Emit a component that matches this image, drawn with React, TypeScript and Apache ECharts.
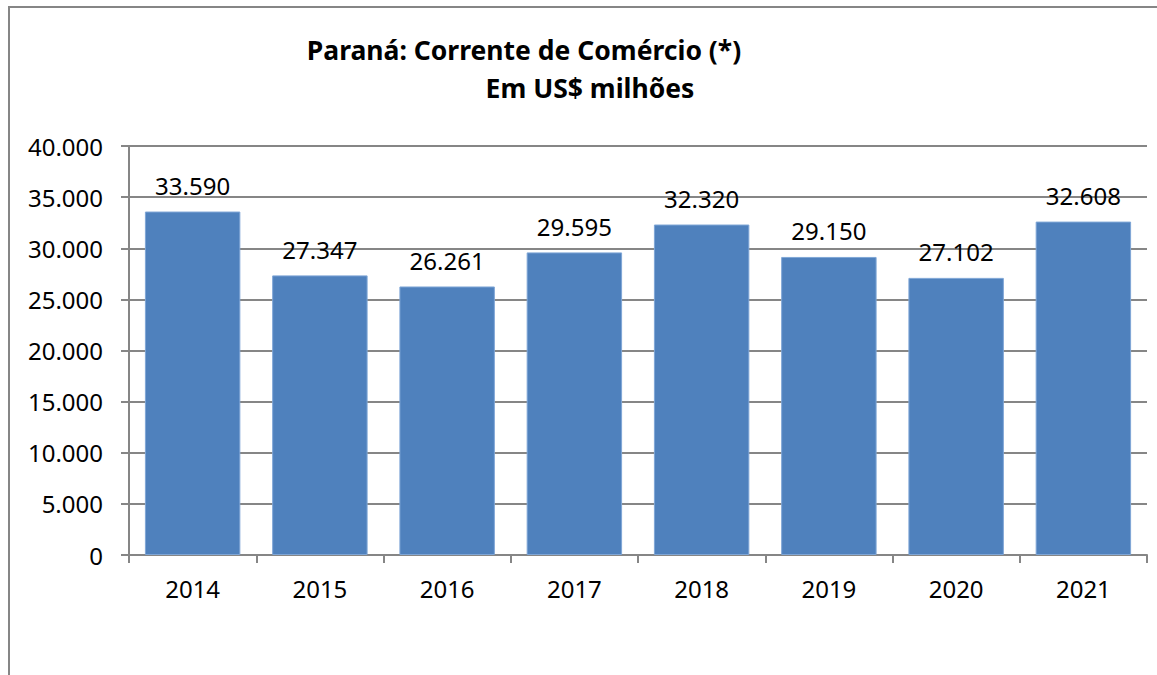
import React, { useEffect, useRef } from "react";
import * as echarts from "echarts";

const categories = ["2014", "2015", "2016", "2017", "2018", "2019", "2020", "2021"];
const values = [33590, 27347, 26261, 29595, 32320, 29150, 27102, 32608];
const yTicks = { min: 0, max: 40000, interval: 5000 };
const titleLine1 = "Paraná: Corrente de Comércio (*)";
const titleLine2 = "Em US$ milhões";

const fmt = (v: number) => {
  const s = Math.round(v).toString();
  return s.replace(/\B(?=(\d{3})+(?!\d))/g, ".");
};

const FONT = "'Noto Sans', 'Open Sans', sans-serif";

export default function App() {
  const ref = useRef<HTMLDivElement>(null);
  useEffect(() => {
    if (!ref.current) return;
    const chart = echarts.init(ref.current, null, { renderer: "svg" });
    chart.setOption({
      animation: false,
      backgroundColor: "#ffffff",
      title: [
        {
          text: titleLine1,
          left: 519,
          top: 31,
          textAlign: "center",
          textStyle: { fontFamily: FONT, fontSize: 26.5, fontWeight: "bold", color: "#000" },
        },
        {
          text: titleLine2,
          left: 585,
          top: 69,
          textAlign: "center",
          textStyle: { fontFamily: FONT, fontSize: 26.5, fontWeight: "bold", color: "#000" },
        },
      ],
      graphic: [
        {
          type: "rect",
          shape: { x: 9, y: 7, width: 1160, height: 720 },
          style: { fill: "none", stroke: "#868686", lineWidth: 2 },
          silent: true,
        },
      ],
      grid: { left: 129, right: 10, top: 146, bottom: 120, containLabel: false },
      xAxis: {
        type: "category",
        data: categories,
        axisLine: { show: true, lineStyle: { color: "#868686", width: 2 } },
        axisTick: { show: true, length: 8, alignWithLabel: false, lineStyle: { color: "#868686", width: 2 } },
        axisLabel: { fontFamily: FONT, fontSize: 24, color: "#000", margin: 21 },
      },
      yAxis: {
        type: "value",
        min: yTicks.min,
        max: yTicks.max,
        interval: yTicks.interval,
        axisLine: { show: true, lineStyle: { color: "#868686", width: 2 } },
        axisTick: { show: true, length: 8, inside: false, lineStyle: { color: "#868686", width: 2 } },
        splitLine: { show: true, lineStyle: { color: "#868686", width: 2 } },
        axisLabel: {
          fontFamily: FONT,
          fontSize: 24,
          color: "#000",
          margin: 26,
          formatter: (v: number) => fmt(v),
        },
      },
      series: [
        {
          type: "bar",
          data: values,
          barCategoryGap: "25%",
          itemStyle: { color: "#4F81BD", borderColor: "#7FA6D6", borderWidth: 1 },
          label: {
            show: true,
            position: "top",
            distance: 14,
            fontFamily: FONT,
            fontSize: 24,
            color: "#000",
            formatter: (p: any) => fmt(p.value),
          },
        },
      ],
    });
    return () => chart.dispose();
  }, []);
  return (
    <div
      ref={ref}
      style={{ position: "absolute", left: 0, top: 0, width: 1157, height: 675 }}
    />
  );
}
